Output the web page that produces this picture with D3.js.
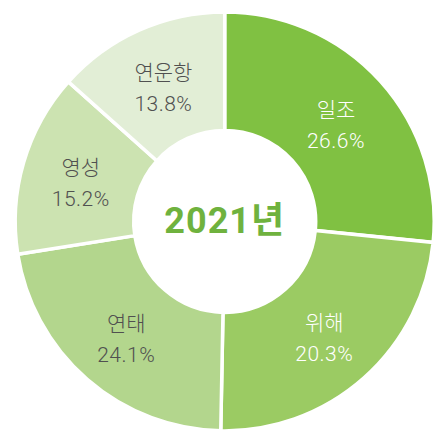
<!DOCTYPE html>
<html><head><meta charset="utf-8">
<script src="https://cdn.jsdelivr.net/npm/d3@7"></script>
<style>body{margin:0;background:#fff}</style>
</head><body>
<svg id="chart" width="439" height="433"></svg>
<script>
const categories = ["일조", "위해", "연태", "영성", "연운항"];
const sliceShares = [26.6, 23.7, 22.2, 14.1, 13.4];
const percentLabels = ["26.6%", "20.3%", "24.1%", "15.2%", "13.8%"];
const colors = ["#80c142", "#9bcb63", "#b3d68d", "#cce3b1", "#e2eed6"];
const textColors = ["#ffffff", "#ffffff", "#505050", "#505050", "#505050"];
const centerTitle = "2021년";

const svg = d3.select("#chart");
const cx = 224.7, cy = 221.4, R = 209.5, r = 91;
const g = svg.append("g").attr("transform", `translate(${cx},${cy})`);

const data = categories.map((c, i) => ({name: c, value: sliceShares[i], label: percentLabels[i], color: colors[i], tc: textColors[i]}));
const pie = d3.pie().value(d => d.value).sort(null);
const arc = d3.arc().innerRadius(r).outerRadius(R);
const labelArc = d3.arc().innerRadius(150).outerRadius(150);

const arcs = pie(data);
g.selectAll("path").data(arcs).join("path")
  .attr("d", arc)
  .attr("fill", d => d.data.color)
  .attr("stroke", "#fff")
  .attr("stroke-width", 3.5)
  .attr("stroke-linejoin", "miter");

const lbl = g.selectAll("g.lbl").data(arcs).join("g").attr("class", "lbl")
  .attr("transform", d => `translate(${labelArc.centroid(d)})`);
lbl.append("text")
  .attr("text-anchor", "middle")
  .attr("y", -4)
  .attr("font-family", "'Noto Sans CJK KR', sans-serif")
  .attr("font-weight", 300)
  .attr("font-size", 21)
  .attr("fill", d => d.data.tc)
  .text(d => d.data.name);
lbl.append("text")
  .attr("text-anchor", "middle")
  .attr("y", 27)
  .attr("font-family", "Roboto, 'Noto Sans CJK KR', sans-serif")
  .attr("font-weight", 300)
  .attr("font-size", 21)
  .attr("letter-spacing", 0.5)
  .attr("fill", d => d.data.tc)
  .text(d => d.data.label);

g.append("text")
  .attr("text-anchor", "middle")
  .attr("y", 12)
  .attr("font-family", "Roboto, 'Noto Sans CJK KR', sans-serif")
  .attr("font-weight", 700)
  .attr("font-size", 36)
  .attr("letter-spacing", 1)
  .attr("fill", "#6fb23e")
  .text(centerTitle);
</script>
</body></html>
